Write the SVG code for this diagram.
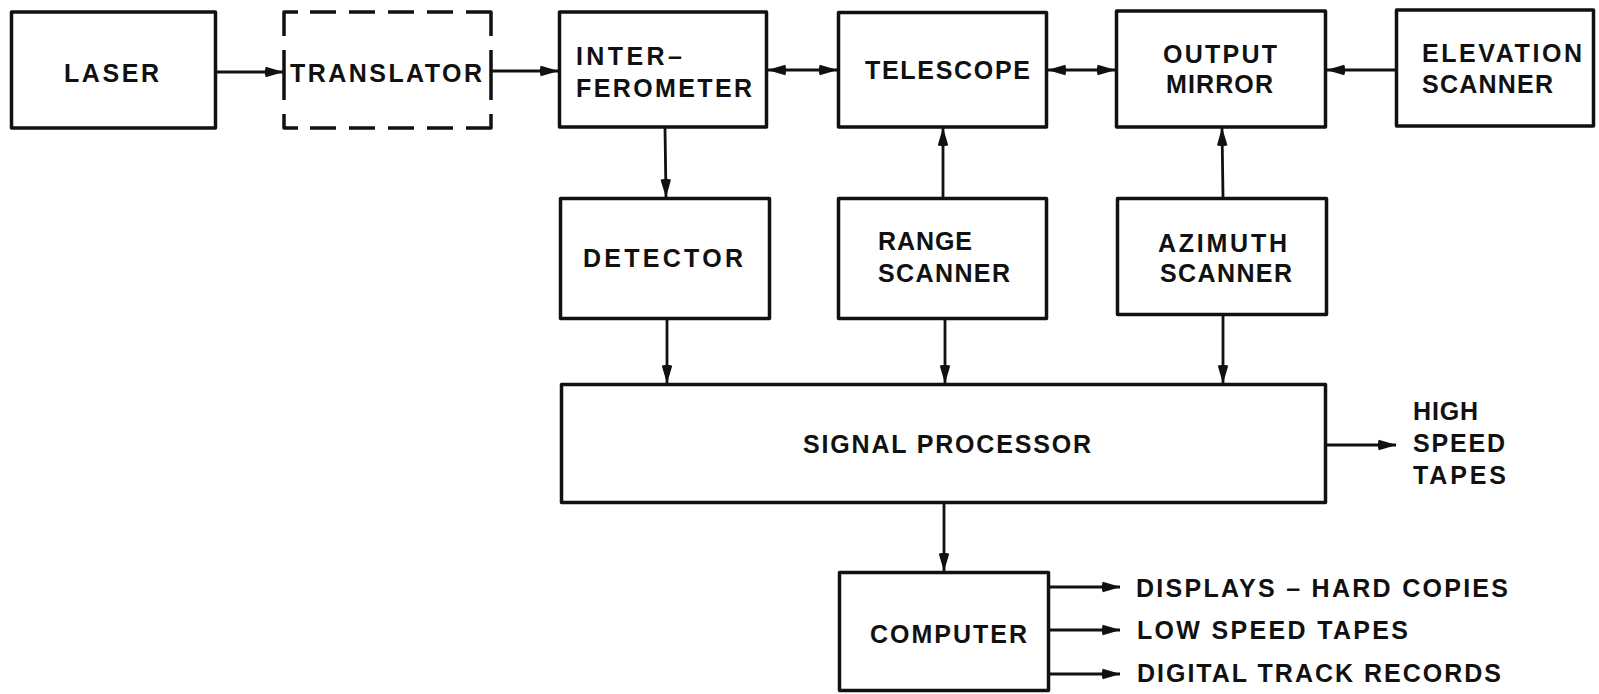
<svg xmlns="http://www.w3.org/2000/svg" width="1599" height="694" viewBox="0 0 1599 694">
<style>
.box{fill:none;stroke:#111;stroke-width:3.5;stroke-linejoin:round}
.dash{fill:none;stroke:#111;stroke-width:3.5;stroke-linecap:butt;stroke-linejoin:round}
.con{fill:none;stroke:#111;stroke-width:2.8}
text{font-family:"Liberation Sans",Arial,sans-serif;font-weight:bold;font-size:25px;fill:#111}
</style>
<defs>
<marker id="ah" viewBox="0 0 16 10" refX="15.5" refY="5" markerWidth="19" markerHeight="12" markerUnits="userSpaceOnUse" orient="auto-start-reverse">
<path d="M1,0.6 L16,5 L1,9.4 Q-0.6,5 1,0.6 z" fill="#111"/>
</marker>
</defs>
<rect width="1599" height="694" fill="#fff"/>

<g id="laser"><rect class="box" x="11.5" y="12" width="204" height="116"/><text x="64" y="82" textLength="95" lengthAdjust="spacing">LASER</text></g>

<g id="translator">
<path class="dash" d="M284,36 V12 H298 M310,12 H336 M349,12 H375 M388,12 H414 M427,12 H453 M466,12 H491 V36 M491,50 V100 M491,114 V128 H466 M453,128 H427 M414,128 H388 M375,128 H349 M336,128 H310 M298,128 H284 V114 M284,100 V50"/>
<text x="290" y="82" textLength="192" lengthAdjust="spacing">TRANSLATOR</text></g>

<g id="interferometer"><rect class="box" x="559.5" y="12" width="207" height="115"/><text x="576" y="65" textLength="106" lengthAdjust="spacing">INTER–</text><text x="576" y="97" textLength="176" lengthAdjust="spacing">FEROMETER</text></g>

<g id="telescope"><rect class="box" x="838.5" y="12.5" width="208" height="114.5"/><text x="865" y="79" textLength="165" lengthAdjust="spacing">TELESCOPE</text></g>

<g id="output-mirror"><rect class="box" x="1116.5" y="11" width="209" height="116"/><text x="1163" y="63" textLength="114" lengthAdjust="spacing">OUTPUT</text><text x="1166" y="93" textLength="107" lengthAdjust="spacing">MIRROR</text></g>

<g id="elevation-scanner"><rect class="box" x="1396.5" y="10" width="197" height="116"/><text x="1422" y="62" textLength="160" lengthAdjust="spacing">ELEVATION</text><text x="1422" y="93" textLength="131" lengthAdjust="spacing">SCANNER</text></g>

<g id="detector"><rect class="box" x="560.5" y="198.5" width="209" height="120"/><text x="583" y="267" textLength="160" lengthAdjust="spacing">DETECTOR</text></g>

<g id="range-scanner"><rect class="box" x="838.5" y="198.5" width="208" height="120"/><text x="878" y="250" textLength="94" lengthAdjust="spacing">RANGE</text><text x="878" y="282" textLength="132" lengthAdjust="spacing">SCANNER</text></g>

<g id="azimuth-scanner"><rect class="box" x="1117.5" y="198.5" width="209" height="116"/><text x="1158" y="252" textLength="129" lengthAdjust="spacing">AZIMUTH</text><text x="1160" y="282" textLength="132" lengthAdjust="spacing">SCANNER</text></g>

<g id="signal-processor"><rect class="box" x="561.5" y="384.5" width="764" height="118"/><text x="803" y="453" textLength="288" lengthAdjust="spacing">SIGNAL PROCESSOR</text></g>

<g id="high-speed-tapes"><text x="1413" y="420" textLength="65" lengthAdjust="spacing">HIGH</text><text x="1413" y="452" textLength="92" lengthAdjust="spacing">SPEED</text><text x="1413" y="484" textLength="93" lengthAdjust="spacing">TAPES</text></g>

<g id="computer"><rect class="box" x="839.5" y="572.5" width="209" height="118"/><text x="870" y="643" textLength="157" lengthAdjust="spacing">COMPUTER</text></g>

<g id="displays"><text x="1136" y="597" textLength="372" lengthAdjust="spacing">DISPLAYS – HARD COPIES</text></g>
<g id="low-speed-tapes"><text x="1137" y="639" textLength="271" lengthAdjust="spacing">LOW SPEED TAPES</text></g>
<g id="digital-track-records"><text x="1137" y="682" textLength="364" lengthAdjust="spacing">DIGITAL TRACK RECORDS</text></g>

<g id="connectors">
<line class="con" x1="217" y1="72" x2="283" y2="72" marker-end="url(#ah)"/>
<line class="con" x1="492" y1="71" x2="558" y2="71" marker-end="url(#ah)"/>
<line class="con" x1="768" y1="70" x2="837" y2="70" marker-start="url(#ah)" marker-end="url(#ah)"/>
<line class="con" x1="1048" y1="70" x2="1115" y2="70" marker-start="url(#ah)" marker-end="url(#ah)"/>
<line class="con" x1="1395" y1="70" x2="1327" y2="70" marker-end="url(#ah)"/>
<line class="con" x1="665" y1="128" x2="666" y2="197" marker-end="url(#ah)"/>
<line class="con" x1="943" y1="197" x2="943" y2="128" marker-end="url(#ah)"/>
<line class="con" x1="1223" y1="197" x2="1222" y2="128" marker-end="url(#ah)"/>
<line class="con" x1="667" y1="320" x2="667" y2="383" marker-end="url(#ah)"/>
<line class="con" x1="945" y1="320" x2="945" y2="383" marker-end="url(#ah)"/>
<line class="con" x1="1223" y1="316" x2="1223" y2="383" marker-end="url(#ah)"/>
<line class="con" x1="944" y1="504" x2="944" y2="571" marker-end="url(#ah)"/>
<line class="con" x1="1327" y1="445" x2="1396" y2="445" marker-end="url(#ah)"/>
<line class="con" x1="1050" y1="587" x2="1120" y2="587" marker-end="url(#ah)"/>
<line class="con" x1="1050" y1="630" x2="1120" y2="630" marker-end="url(#ah)"/>
<line class="con" x1="1050" y1="674" x2="1120" y2="674" marker-end="url(#ah)"/>
</g>
</svg>
